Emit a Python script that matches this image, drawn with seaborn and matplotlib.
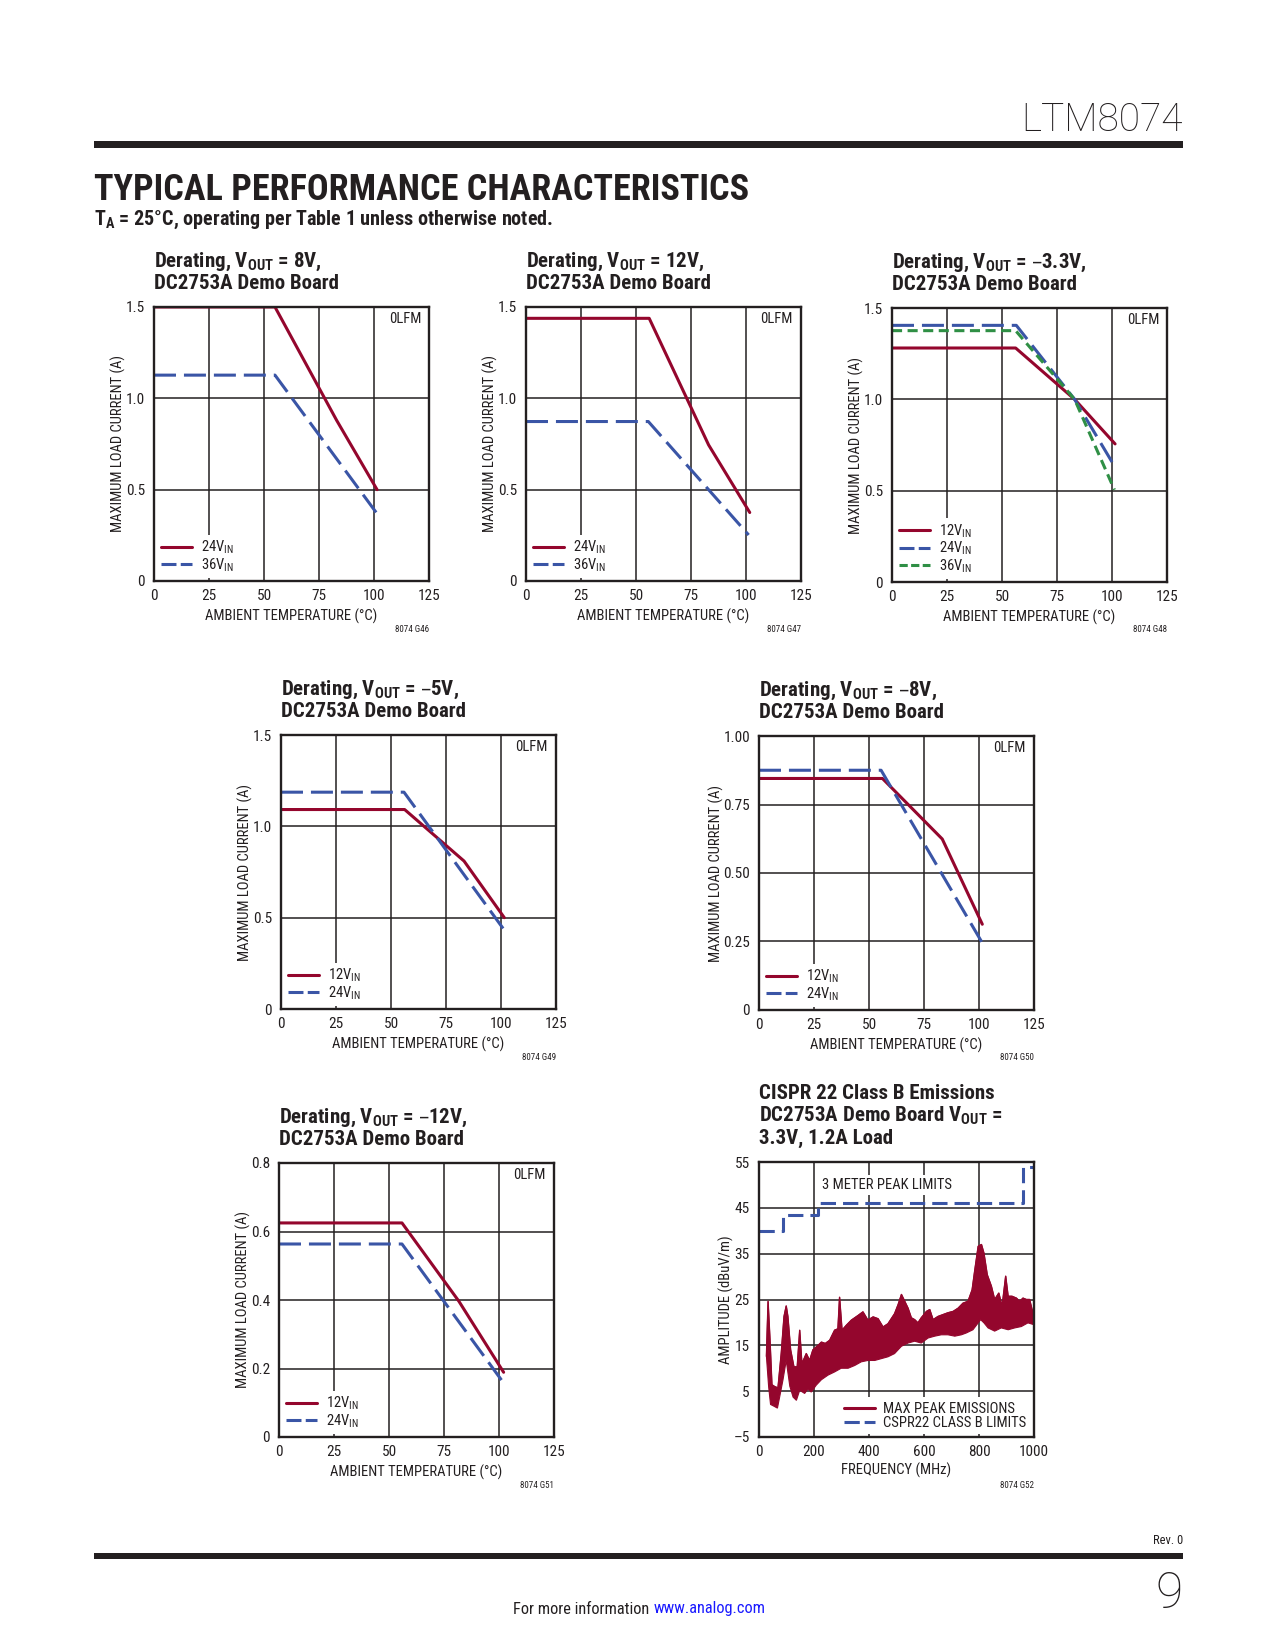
import numpy as np
import matplotlib
matplotlib.use("Agg")
import matplotlib.pyplot as plt
import seaborn as sns
from matplotlib import font_manager
from matplotlib.patches import Rectangle

# ---- values ----
temp_ticks = [0, 25, 50, 75, 100, 125]
temp_labels = ["0", "25", "50", "75", "100", "125"]
amp15_ticks = [0, 0.5, 1.0, 1.5]
amp15_labels = ["0", "0.5", "1.0", "1.5"]
amp10_ticks = [0, 0.25, 0.5, 0.75, 1.0]
amp10_labels = ["0", "0.25", "0.50", "0.75", "1.00"]
amp08_ticks = [0, 0.2, 0.4, 0.6, 0.8]
amp08_labels = ["0", "0.2", "0.4", "0.6", "0.8"]

# VOUT = 8V (G46)
v8_24_t = [0, 55, 83, 101.4]
v8_24_i = [1.50, 1.50, 0.88, 0.50]
v8_36_t = [0, 55, 101]
v8_36_i = [1.127, 1.127, 0.375]

# VOUT = 12V (G47)
v12_24_t = [0, 56, 83, 101.7]
v12_24_i = [1.438, 1.438, 0.745, 0.375]
v12_36_t = [0, 55.6, 101.2]
v12_36_i = [0.873, 0.873, 0.252]

# VOUT = -3.3V (G48)
n33_12_t = [0, 56.2, 83, 101.4]
n33_12_i = [1.281, 1.281, 1.0, 0.756]
n33_24_t = [0, 56.5, 83, 101.4]
n33_24_i = [1.405, 1.405, 1.0, 0.629]
n33_36_t = [0, 56.2, 83, 101.1]
n33_36_i = [1.376, 1.376, 1.0, 0.505]

# VOUT = -5V (G49)
n5_12_t = [0, 56.2, 83.2, 101.5]
n5_12_i = [1.092, 1.092, 0.81, 0.50]
n5_24_t = [0, 55.9, 101.2]
n5_24_i = [1.187, 1.187, 0.437]

# VOUT = -8V (G50)
n8_12_t = [0, 56.1, 83.3, 101.5]
n8_12_i = [0.845, 0.845, 0.624, 0.313]
n8_24_t = [0, 55.5, 101.2]
n8_24_i = [0.875, 0.875, 0.249]

# VOUT = -12V (G51)
n12_12_t = [0, 55.9, 81.8, 102.1]
n12_12_i = [0.625, 0.625, 0.396, 0.189]
n12_24_t = [0, 55.9, 102.3]
n12_24_i = [0.5635, 0.5635, 0.156]

# CISPR 22 emissions (G52): upper / lower edge of the peak trace, limit steps
emi_up_f = [27, 33, 40, 47, 57, 69, 81, 91, 99, 105, 115, 127, 139, 148, 156, 172, 184, 196, 215, 227,
            241, 257, 275, 287, 293, 302, 318, 336, 360, 378, 396, 415, 433, 451, 469, 493, 506, 518, 530, 542,
            554, 566, 578, 590, 609, 621, 633, 651, 669, 687, 706, 724, 742, 760, 775, 784, 797, 809, 818, 830,
            845, 857, 872, 884, 897, 906, 920, 936, 948, 960, 972, 984, 993, 1000]
emi_up_a = [12.6, 24.6, 16.2, 6.4, 6.0, 5.7, 13.3, 21.3, 23.6, 21.3, 14.0, 10.3, 10.3, 18.3, 11.0, 13.2, 11.7, 14.0, 15.0, 15.7,
            15.4, 16.1, 18.3, 18.6, 25.5, 18.3, 19.4, 20.5, 21.5, 22.3, 20.5, 21.2, 20.8, 19.0, 19.7, 21.9, 23.9, 26.1, 24.6, 23.1,
            21.0, 20.6, 19.9, 21.0, 22.4, 22.8, 20.6, 21.3, 21.7, 22.1, 22.4, 23.1, 24.2, 24.6, 27.1, 31.1, 36.6, 37.0, 35.1, 30.4,
            27.9, 25.0, 26.4, 23.5, 30.1, 25.7, 25.7, 25.3, 24.6, 25.3, 25.0, 25.0, 22.8, 22.1]
emi_lo_f = [27, 35, 42, 55, 67, 75, 87, 99, 112, 124, 136, 148, 166, 178, 190, 208, 227, 251, 275, 299,
            324, 348, 372, 396, 421, 445, 469, 493, 518, 542, 566, 590, 615, 639, 663, 687, 712, 736, 754, 778,
            797, 806, 818, 833, 857, 881, 906, 930, 954, 978, 1000]
emi_lo_a = [12.6, 6.0, 2.1, 1.7, 1.3, 3.7, 7.4, 11.7, 6.1, 3.7, 3.0, 5.2, 4.5, 5.5, 4.8, 6.3, 7.5, 8.5, 9.2, 10.0,
            10.0, 10.6, 11.4, 11.7, 11.7, 12.1, 12.5, 13.2, 14.8, 15.5, 15.9, 15.5, 16.6, 17.0, 17.3, 17.3, 17.0, 17.3, 17.7, 18.4,
            19.9, 20.6, 19.9, 18.8, 18.1, 18.8, 18.4, 18.8, 19.1, 19.9, 19.5]
lim_f = [0, 88, 216, 960, 1000]
lim_a = [40, 43.5, 46, 54, 54]
freq_ticks = [0, 200, 400, 600, 800, 1000]
freq_labels = ["0", "200", "400", "600", "800", "1000"]
db_ticks = [-5, 5, 15, 25, 35, 45, 55]
db_labels = ["\u20135", "5", "15", "25", "35", "45", "55"]

# ---- fonts ----
installed = {f.name for f in font_manager.fontManager.ttflist}


def pick(*names):
    for n in names:
        if n in installed:
            return n
    return "DejaVu Sans"


NARROW = pick("Liberation Sans Narrow", "Roboto Condensed", "Liberation Sans")
LIGHT = pick("Roboto", "Liberation Sans")

sns.set_theme(style="white")
plt.rcParams["font.family"] = [NARROW, "DejaVu Sans"]
plt.rcParams["mathtext.default"] = "regular"

INK = "#231F20"
RED = "#94062D"
BLUE = "#3A55A6"
GREEN = "#2F8F45"
# line style on the plot, and a shorter pattern for the legend key
STYLE = {
    "red": (RED, "-", "-"),
    "blue": (BLUE, (0, (7.2, 2.6)), (0, (4.9, 1.4))),
    "green": (GREEN, (0, (3.3, 1.8)), (0, (2.7, 1.1))),
}

W, H = 1275, 1650
fig = plt.figure(figsize=(W / 100, H / 100), dpi=100)


def place(left, top, w=275, h=274):
    return fig.add_axes([left / W, 1 - (top + h) / H, w / W, h / H])


def frame(ax, xticks, xlabels, yticks, ylabels, xlabel, ylabel, ylab_off):
    ax.set_xlim(xticks[0], xticks[-1])
    ax.set_ylim(yticks[0], yticks[-1])
    ax.set_xticks(xticks)
    ax.set_xticklabels(xlabels)
    ax.set_yticks(yticks)
    ax.set_yticklabels(ylabels)
    ax.tick_params(length=0, labelsize=11, labelcolor=INK)
    ax.tick_params(axis="x", pad=5.5)
    ax.tick_params(axis="y", pad=6.5)
    ax.grid(True, color=INK, lw=1.1)
    ax.set_axisbelow(True)
    for s in ax.spines.values():
        s.set_color(INK)
        s.set_linewidth(1.7)
    ax.set_xlabel(xlabel, fontsize=10.5, color=INK, va="center")
    ax.xaxis.set_label_coords(0.5, -35 / 274)
    ax.set_ylabel(ylabel, fontsize=10.5, color=INK, va="center")
    ax.yaxis.set_label_coords(-ylab_off / 275, 0.5)


def head(ax, lines, code):
    for k, line in enumerate(reversed(lines)):
        ax.text(0, 1 + (18 + 22.5 * k) / 274, line, transform=ax.transAxes, ha="left",
                va="baseline", fontsize=15, fontweight="bold", color=INK)
    ax.text(1, -48 / 274, code, transform=ax.transAxes, ha="right", va="center",
            fontsize=6.5, color=INK)


def key(ax, loc):
    return ax.legend(loc=loc, frameon=True, fancybox=False, framealpha=1, edgecolor="none",
                     facecolor="white", fontsize=10.5, handlelength=2.1, handletextpad=0.6,
                     labelspacing=0.0, borderpad=0.3, borderaxespad=0.2, labelcolor=INK)


def derating(left, top, lines, code, series, yticks, ylabels, ylab_off=36):
    ax = place(left, top)
    for label, t, i, kind in series:
        color, ls, _ = STYLE[kind]
        sns.lineplot(x=t, y=i, ax=ax, color=color, linestyle=ls, lw=2.2, label=label,
                     estimator=None, sort=False)
    frame(ax, temp_ticks, temp_labels, yticks, ylabels,
          "AMBIENT TEMPERATURE (\u00b0C)", "MAXIMUM LOAD CURRENT (A)", ylab_off)
    ax.text(1 - 8 / 275, 1 - 12 / 274, "0LFM", transform=ax.transAxes, ha="right",
            va="center", fontsize=10.5, color=INK)
    leg = key(ax, "lower left")
    for handle, s in zip(leg.get_lines(), series):
        handle.set_linestyle(STYLE[s[3]][2])
    head(ax, lines, code)
    return ax


derating(154, 307, ["Derating, V$_{OUT}$ = 8V,", "DC2753A Demo Board"], "8074 G46",
         [("24V$_{IN}$", v8_24_t, v8_24_i, "red"), ("36V$_{IN}$", v8_36_t, v8_36_i, "blue")],
         amp15_ticks, amp15_labels)
derating(526, 307, ["Derating, V$_{OUT}$ = 12V,", "DC2753A Demo Board"], "8074 G47",
         [("24V$_{IN}$", v12_24_t, v12_24_i, "red"), ("36V$_{IN}$", v12_36_t, v12_36_i, "blue")],
         amp15_ticks, amp15_labels)
derating(892, 308, ["Derating, V$_{OUT}$ = \u20133.3V,", "DC2753A Demo Board"], "8074 G48",
         [("12V$_{IN}$", n33_12_t, n33_12_i, "red"), ("24V$_{IN}$", n33_24_t, n33_24_i, "blue"),
          ("36V$_{IN}$", n33_36_t, n33_36_i, "green")],
         amp15_ticks, amp15_labels)
derating(281, 735, ["Derating, V$_{OUT}$ = \u20135V,", "DC2753A Demo Board"], "8074 G49",
         [("12V$_{IN}$", n5_12_t, n5_12_i, "red"), ("24V$_{IN}$", n5_24_t, n5_24_i, "blue")],
         amp15_ticks, amp15_labels)
derating(759, 736, ["Derating, V$_{OUT}$ = \u20138V,", "DC2753A Demo Board"], "8074 G50",
         [("12V$_{IN}$", n8_12_t, n8_12_i, "red"), ("24V$_{IN}$", n8_24_t, n8_24_i, "blue")],
         amp10_ticks, amp10_labels, ylab_off=43)
derating(279, 1163, ["Derating, V$_{OUT}$ = \u201312V,", "DC2753A Demo Board"], "8074 G51",
         [("12V$_{IN}$", n12_12_t, n12_12_i, "red"), ("24V$_{IN}$", n12_24_t, n12_24_i, "blue")],
         amp08_ticks, amp08_labels)

# ---- emissions chart ----
ax7 = place(759, 1162, h=275)
ax7.fill(np.r_[emi_up_f, emi_lo_f[::-1]], np.r_[emi_up_a, emi_lo_a[::-1]], color=RED, lw=0.8, zorder=2)
sns.lineplot(x=emi_up_f, y=emi_up_a, ax=ax7, color=RED, lw=1.0, label="MAX PEAK EMISSIONS",
             estimator=None, sort=False)
sns.lineplot(x=lim_f, y=lim_a, ax=ax7, color=BLUE, lw=2.2, linestyle=(0, (5, 2.3)),
             drawstyle="steps-post", label="CSPR22 CLASS B LIMITS", estimator=None, sort=False)
frame(ax7, freq_ticks, freq_labels, db_ticks, db_labels, "FREQUENCY (MHz)", "AMPLITUDE (dBuV/m)", 33)
ax7.xaxis.set_label_coords(0.5, -33 / 275)
ax7.text(230, 50, "3 METER PEAK LIMITS", ha="left", va="center", fontsize=10.5, color=INK,
         bbox=dict(facecolor="white", edgecolor="none", pad=2))
leg = key(ax7, "lower right")
for h in leg.get_lines():
    h.set_linewidth(2.2)
leg.get_lines()[1].set_linestyle((0, (5, 1.6)))
head(ax7, ["CISPR 22 Class B Emissions", "DC2753A Demo Board V$_{OUT}$ =", "3.3V, 1.2A Load"], "8074 G52")

# ---- page furniture ----
fig.text(1183 / W, 1 - 120 / H, "LTM8074", ha="right", va="center", fontsize=28,
         family=LIGHT, fontweight="light", color=INK)
fig.add_artist(Rectangle((94 / W, 1 - 148.3 / H), (1183 - 94) / W, 7.3 / H, transform=fig.transFigure,
                         color=INK, lw=0))
fig.text(94 / W, 1 - 200 / H, "TYPICAL PERFORMANCE CHARACTERISTICS", ha="left", va="baseline",
         fontsize=26, fontweight="bold", color=INK)
fig.text(94 / W, 1 - 225 / H, "T$_{A}$ = 25\u00b0C, operating per Table 1 unless otherwise noted.",
         ha="left", va="baseline", fontsize=14.5, fontweight="bold", color=INK)
fig.add_artist(Rectangle((94 / W, 1 - 1559.3 / H), (1183 - 94) / W, 6.3 / H, transform=fig.transFigure,
                         color=INK, lw=0))
fig.text(1183 / W, 1 - 1540 / H, "Rev. 0", ha="right", va="center", fontsize=9, color=INK)
fig.text(1183 / W, 1 - 1594 / H, "9", ha="right", va="center", fontsize=36, family=LIGHT,
         fontweight="light", color=INK)
more = fig.text(513 / W, 1 - 1609 / H, "For more information", ha="left", va="center",
                fontsize=11.8, color=INK)
box = more.get_window_extent(renderer=fig.canvas.get_renderer())
fig.text((box.x1 + 4) / W, 1 - 1609 / H, "www.analog.com", ha="left", va="center",
         fontsize=11.8, color="#1A1AFF")

fig.savefig("out.png", dpi=100, facecolor="white")
